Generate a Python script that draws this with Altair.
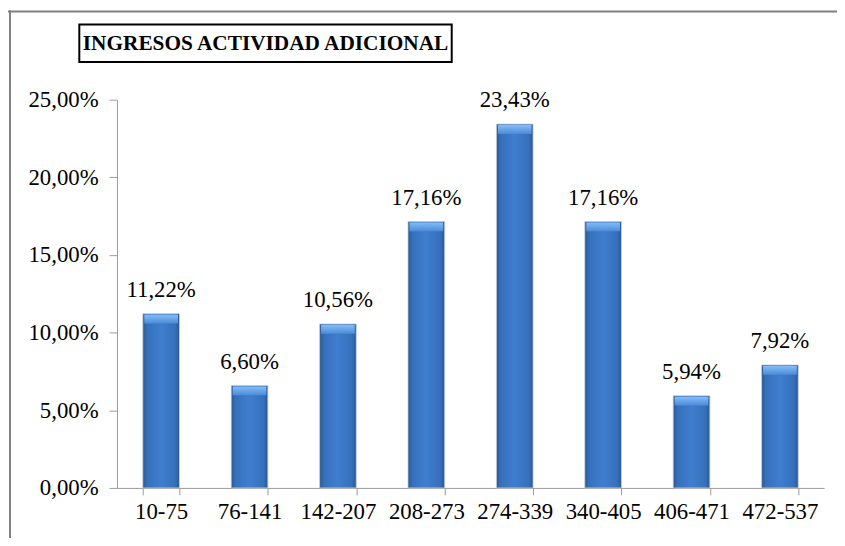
import altair as alt
import pandas as pd

categories = ["10-75", "76-141", "142-207", "208-273", "274-339", "340-405", "406-471", "472-537"]
values = [11.22, 6.60, 10.56, 17.16, 23.43, 17.16, 5.94, 7.92]
y_ticks = [0, 5, 10, 15, 20, 25]
title_text = "INGRESOS ACTIVIDAD ADICIONAL"

df = pd.DataFrame({"cat": categories, "val": values})
one = pd.DataFrame({"a": [0]})

FONT = "Liberation Serif"
W, H = 714, 392
FS = 23

x_enc = alt.X("cat:N", sort=categories, title=None,
              scale=alt.Scale(paddingInner=0.585, paddingOuter=0.2925),
              axis=alt.Axis(labelAngle=0, tickBand="extent", tickSize=7,
                            labelPadding=6, labelFontSize=FS, labelFont=FONT,
                            labelColor="black", domainColor="#9a9a9a",
                            tickColor="#9a9a9a", labelLimit=200))
y_enc = alt.Y("val:Q", title=None,
              scale=alt.Scale(domain=[0, 25], nice=False),
              axis=alt.Axis(values=y_ticks, grid=False, tickSize=8,
                            labelPadding=11, labelFontSize=FS, labelFont=FONT,
                            labelColor="black", domainColor="#9a9a9a",
                            tickColor="#9a9a9a",
                            labelExpr="replace(format(datum.value, '.2f'), '.', ',') + '%'"))

base = alt.Chart(df)

bar_grad = alt.Gradient(
    gradient="linear", x1=0, x2=1, y1=0, y2=0,
    stops=[alt.GradientStop(offset=0, color="#2a5892"),
           alt.GradientStop(offset=0.12, color="#3670bb"),
           alt.GradientStop(offset=0.5, color="#3f7ecf"),
           alt.GradientStop(offset=0.88, color="#3670bb"),
           alt.GradientStop(offset=1, color="#2a5892")])

bars = base.mark_bar(fill=bar_grad, stroke="#c8d0dc", strokeWidth=0.8).encode(x=x_enc, y=y_enc)

bevel_grad = alt.Gradient(
    gradient="linear", x1=0, x2=0, y1=0, y2=1,
    stops=[alt.GradientStop(offset=0, color="#84bdf6"),
           alt.GradientStop(offset=1, color="#4c8ad8")])
bevel = base.mark_tick(fill=bevel_grad, color="#6aa6ee", size=34, thickness=9,
                       yOffset=5.5, opacity=1).encode(
    x=alt.X("cat:N", sort=categories), y=alt.Y("val:Q"))

labels = base.mark_text(font=FONT, fontSize=FS, color="black", baseline="alphabetic",
                        dy=-17).encode(
    x=alt.X("cat:N", sort=categories), y=alt.Y("val:Q"),
    text=alt.Text("lbl:N")).transform_calculate(
    lbl="replace(format(datum.val, '.2f'), '.', ',') + '%'")

deco = alt.Chart(one)
title_box = deco.mark_rect(fill="white", stroke="black", strokeWidth=2).encode(
    x=alt.value(-38), x2=alt.value(338), y=alt.value(-76), y2=alt.value(-38))
title = deco.mark_text(font=FONT, fontSize=21.5, fontWeight="bold", color="black",
                       align="center", baseline="middle", text=title_text).encode(
    x=alt.value(150), y=alt.value(-56))
frame_left = deco.mark_rule(color="#808080", strokeWidth=2).encode(
    x=alt.value(-108), y=alt.value(-90), y2=alt.value(450))
frame_top = deco.mark_rule(color="#808080", strokeWidth=2).encode(
    x=alt.value(-110), x2=alt.value(727), y=alt.value(-89))

chart = alt.layer(bars, bevel, labels, frame_left, frame_top, title_box, title).properties(
    width=W, height=H,
    autosize=alt.AutoSizeParams(type="none"),
    padding={"left": 110, "top": 90, "right": 13, "bottom": 48},
    background="white",
).configure_view(stroke=None)

chart.save("out.html", embed_options={"renderer": "svg", "actions": False})
